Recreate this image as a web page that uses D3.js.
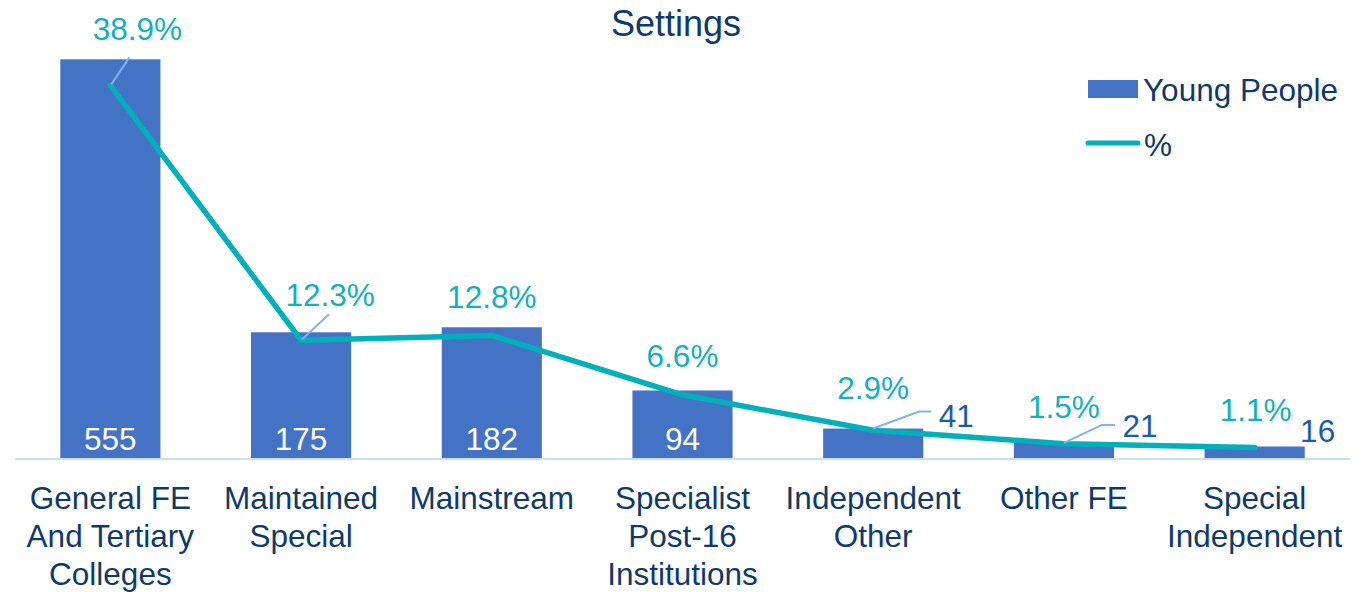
<!DOCTYPE html>
<html>
<head>
<meta charset="utf-8">
<script src="https://cdn.jsdelivr.net/npm/d3@7"></script>
<style>
  html, body { margin: 0; padding: 0; background: #fff; }
  svg { display: block; font-family: "Liberation Sans", Arial, sans-serif; }
</style>
</head>
<body>
<svg id="chart" width="1368" height="592"></svg>
<script>
// ---- data ----
const title = "Settings";
const categories = [
  "General FE And Tertiary Colleges",
  "Maintained Special",
  "Mainstream",
  "Specialist Post-16 Institutions",
  "Independent Other",
  "Other FE",
  "Special Independent"
];
const youngPeople = [555, 175, 182, 94, 41, 21, 16];
const percent = [0.389, 0.123, 0.128, 0.066, 0.029, 0.015, 0.011];
const seriesNames = ["Young People", "%"];

// ---- layout ----
const W = 1368, H = 592;
const plot = { left: 15, right: 1350, top: 27, bottom: 458 };
const C = {
  bar: "#4472C4",
  line: "#00B0BA",
  pctLabel: "#11B2BA",
  navy: "#0E3A6B",
  outLabel: "#1A5DA6",
  leader: "#7FB2F2",
  axis: "#C9DFF7"
};
const FS = 31.5;

const svg = d3.select("#chart");

const x = d3.scaleBand().domain(categories).range([plot.left, plot.right])
  .paddingInner(0.475).paddingOuter(0.2375);
const y = d3.scaleLinear().domain([0, 600]).range([plot.bottom, plot.top]);
const y2 = d3.scaleLinear().domain([0, 0.45]).range([plot.bottom, plot.top]);

const rows = categories.map((c, i) => ({ c, v: youngPeople[i], p: percent[i], i }));
const cx = d => x(d.c) + x.bandwidth() / 2;

// title
svg.append("text").attr("x", 676).attr("y", 36).attr("text-anchor", "middle")
  .attr("fill", C.navy).style("font-size", "36px").text(title);

// bars
svg.append("g").selectAll("rect").data(rows).join("rect")
  .attr("x", d => x(d.c)).attr("width", x.bandwidth())
  .attr("y", d => y(d.v)).attr("height", d => y(0) - y(d.v))
  .attr("fill", C.bar);

// axis line
svg.append("line").attr("x1", plot.left).attr("x2", plot.right)
  .attr("y1", y(0) + 1).attr("y2", y(0) + 1)
  .attr("stroke", C.axis).attr("stroke-width", 2);

// category labels (wrapped to band step)
const xAxis = svg.append("g").attr("transform", `translate(0,${plot.bottom})`)
  .call(d3.axisBottom(x).tickSize(0).tickPadding(0));
xAxis.select(".domain").remove();
xAxis.selectAll(".tick text").each(function (name) {
  const t = d3.select(this);
  t.text(null).attr("fill", C.navy).style("font-size", FS + "px")
    .style("font-family", '"Liberation Sans", Arial, sans-serif').attr("y", 0).attr("dy", null);
  const words = name.split(" ");
  const maxW = x.step() - 4;
  let lines = [], cur = [];
  const probe = t.append("tspan");
  words.forEach(w => {
    const test = cur.concat(w).join(" ");
    probe.text(test);
    if (probe.node().getComputedTextLength() > maxW && cur.length) {
      lines.push(cur.join(" ")); cur = [w];
    } else cur.push(w);
  });
  lines.push(cur.join(" "));
  probe.remove();
  lines.forEach((ln, k) => {
    t.append("tspan").attr("x", 0).attr("y", 51 + k * 38).text(ln);
  });
});

// line series
const line = d3.line().x(cx).y(d => y2(d.p));
svg.append("path").datum(rows).attr("d", line)
  .attr("fill", "none").attr("stroke", C.line).attr("stroke-width", 5.5)
  .attr("stroke-linejoin", "round").attr("stroke-linecap", "round");

// percent labels: default above the point; first two moved with leader lines
const pctShift = [[27, -45], [29, -34], [0, -27], [0, -28], [0, -31], [0, -26], [1, -26]];
const pctLeader = { 0: [[1, -1], [19, -28]], 1: [[1, -1], [28, -26]] };
svg.append("g").selectAll("text").data(rows).join("text")
  .attr("x", d => cx(d) + pctShift[d.i][0])
  .attr("y", d => y2(d.p) + pctShift[d.i][1])
  .attr("text-anchor", "middle").attr("fill", C.pctLabel)
  .style("font-size", FS + "px")
  .text(d => d3.format(".1%")(d.p));
Object.entries(pctLeader).forEach(([i, pts]) => {
  const d = rows[+i];
  svg.append("polyline")
    .attr("points", pts.map(p => [cx(d) + p[0], y2(d.p) + p[1]].join(",")).join(" "))
    .attr("fill", "none").attr("stroke", C.leader).attr("stroke-width", 2);
});

// bar value labels: inside base when the bar is tall enough, else outside right
const inside = rows.filter(d => y(0) - y(d.v) > 40);
const outside = rows.filter(d => y(0) - y(d.v) <= 40);
svg.append("g").selectAll("text").data(inside).join("text")
  .attr("x", cx).attr("y", y(0) - 8).attr("text-anchor", "middle")
  .attr("fill", "#fff").style("font-size", FS + "px").text(d => d.v);

const outShift = { 4: [[46, -17], [58, -17]], 5: [[38, -18], [51, -18]] };
const outText = { 4: [83, -2], 5: [76, -6], 6: [63, -5] };
outside.forEach(d => {
  const bx = cx(d), by = y(d.v);
  if (outShift[d.i]) {
    const pts = [[bx, by]].concat(outShift[d.i].map(p => [bx + p[0], by + p[1]]));
    svg.append("polyline").attr("points", pts.map(p => p.join(",")).join(" "))
      .attr("fill", "none").attr("stroke", C.leader).attr("stroke-width", 2);
  }
  svg.append("text").attr("x", bx + outText[d.i][0]).attr("y", by + outText[d.i][1])
    .attr("text-anchor", "middle").attr("fill", C.outLabel)
    .style("font-size", FS + "px").text(d.v);
});

// legend
const lg = svg.append("g");
lg.append("rect").attr("x", 1088).attr("y", 80).attr("width", 50).attr("height", 18).attr("fill", C.bar);
lg.append("text").attr("x", 1143).attr("y", 101).attr("fill", C.navy)
  .style("font-size", FS + "px").text(seriesNames[0]);
lg.append("line").attr("x1", 1088).attr("x2", 1138).attr("y1", 143).attr("y2", 143)
  .attr("stroke", C.line).attr("stroke-width", 5).attr("stroke-linecap", "round");
lg.append("text").attr("x", 1144).attr("y", 156).attr("fill", C.navy)
  .style("font-size", FS + "px").text(seriesNames[1]);
</script>
</body>
</html>
